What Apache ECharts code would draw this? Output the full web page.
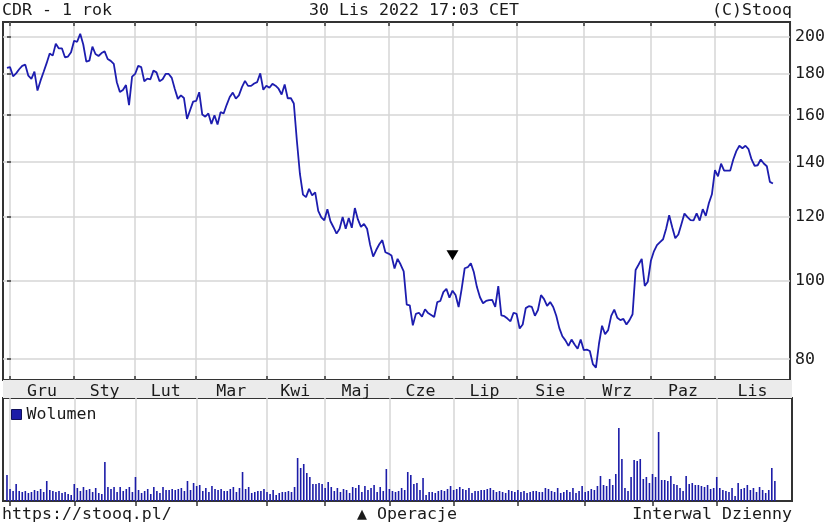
<!DOCTYPE html>
<html>
<head>
<meta charset="utf-8">
<title>CDR - 1 rok</title>
<script src="https://cdn.jsdelivr.net/npm/echarts@6.0.0/dist/echarts.min.js"></script>
<style>
  html, body { margin: 0; padding: 0; background: #fff; }
  #chart { width: 828px; height: 525px; }
</style>
</head>
<body>
<div id="chart"></div>
<script>
// one trading session per index, 30 Nov 2021 .. 30 Nov 2022
const months = ["Gru", "Sty", "Lut", "Mar", "Kwi", "Maj", "Cze", "Lip", "Sie", "Wrz", "Paz", "Lis"]
const monthStarts = [1, 22, 42, 62, 85, 104, 125, 146, 167, 189, 211, 232]
const priceTicks = [80, 100, 120, 140, 160, 180, 200]

const close = [
  183.0, 183.4, 178.7, 180.2, 182.3, 184.1, 184.7, 179.0, 177.4, 181.1,
  171.6, 176.5, 180.9, 185.5, 190.7, 189.5, 196.0, 193.4, 193.5, 188.6,
  189.0, 191.3, 197.7, 197.1, 201.6, 195.6, 186.3, 186.8, 194.4, 190.4,
  189.3, 190.9, 191.8, 187.7, 186.7, 185.1, 175.7, 170.9, 171.9, 174.3,
  164.6, 178.5, 179.9, 184.1, 183.4, 176.2, 177.5, 177.2, 181.6, 180.7,
  176.2, 177.2, 179.9, 179.9, 177.9, 172.4, 167.6, 169.3, 168.0, 158.3,
  162.3, 166.3, 166.6, 170.8, 160.3, 159.3, 160.8, 156.1, 160.0, 155.8,
  161.4, 160.8, 164.8, 168.5, 170.6, 167.7, 169.3, 173.3, 176.4, 173.9,
  173.9, 175.1, 175.8, 180.2, 172.0, 174.0, 173.0, 174.9, 174.0, 172.5,
  169.7, 174.6, 167.9, 168.0, 165.4, 148.8, 135.4, 127.7, 126.8, 129.8,
  127.4, 128.5, 121.9, 119.7, 118.7, 122.5, 118.4, 116.4, 114.3, 115.9,
  119.8, 115.9, 119.5, 116.2, 122.9, 119.0, 116.5, 117.5, 115.9, 110.7,
  107.1, 109.1, 110.9, 112.2, 108.4, 108.0, 107.4, 103.5, 106.4, 104.7,
  102.7, 93.4, 93.2, 88.1, 91.0, 91.3, 90.3, 92.2, 91.2, 90.7,
  90.2, 94.1, 94.4, 96.8, 97.7, 95.3, 97.2, 96.0, 92.8, 97.7,
  103.6, 103.9, 105.1, 102.4, 98.2, 95.4, 93.8, 94.4, 94.6, 94.7,
  92.8, 98.5, 90.6, 90.4, 89.8, 89.1, 91.3, 91.0, 87.3, 88.3,
  92.5, 93.0, 92.8, 90.5, 92.0, 96.0, 94.9, 93.1, 94.1, 92.8,
  90.5, 87.4, 85.4, 84.4, 83.1, 84.6, 83.4, 82.4, 84.6, 82.1,
  82.2, 81.9, 78.9, 78.1, 83.6, 88.0, 85.9, 86.9, 90.5, 92.1,
  90.0, 89.4, 89.7, 88.3, 89.4, 90.9, 103.1, 104.7, 106.4, 98.5,
  99.7, 105.8, 108.7, 110.6, 111.6, 112.5, 115.9, 120.4, 116.4, 112.8,
  114.0, 117.4, 121.0, 119.8, 118.8, 118.7, 121.1, 118.6, 122.5, 120.2,
  124.6, 127.8, 136.9, 134.5, 139.4, 136.7, 136.7, 136.7, 141.1, 144.5,
  146.7, 145.7, 146.7, 145.3, 141.1, 138.6, 138.8, 141.1, 139.5, 138.4,
  132.4, 131.8
]

// thousands of shares
const volume = [
  1300, 600, 500, 850, 500, 450, 500, 400, 450, 550,
  500, 600, 450, 1000, 550, 500, 450, 500, 400, 450,
  350, 300, 850, 650, 500, 700, 550, 600, 450, 650,
  400, 350, 1950, 700, 600, 700, 450, 700, 500, 600,
  700, 450, 1200, 550, 400, 500, 600, 350, 700, 500,
  400, 700, 550, 550, 600, 550, 600, 650, 500, 1000,
  550, 900, 750, 800, 500, 650, 450, 750, 600, 550,
  600, 500, 500, 600, 700, 450, 650, 1450, 600, 700,
  400, 450, 500, 500, 600, 450, 350, 550, 300, 400,
  450, 450, 500, 450, 700, 2150, 1650, 1850, 1400, 1200,
  850, 850, 900, 850, 650, 950, 700, 500, 650, 450,
  600, 550, 400, 700, 650, 800, 450, 750, 550, 650,
  800, 450, 700, 500, 1600, 600, 500, 450, 500, 650,
  550, 1450, 1300, 850, 900, 550, 1150, 300, 450, 450,
  400, 500, 550, 500, 600, 750, 550, 600, 700, 600,
  550, 650, 400, 500, 500, 550, 550, 600, 650, 550,
  450, 500, 450, 400, 550, 500, 450, 550, 450, 500,
  400, 450, 500, 500, 450, 450, 650, 600, 500, 450,
  650, 400, 450, 550, 450, 650, 400, 500, 750, 450,
  500, 600, 550, 750, 1250, 800, 750, 1100, 800, 1350,
  3650, 2100, 650, 500, 1200, 2050, 2000, 2100, 1100, 1200,
  900, 1350, 1200, 3450, 1050, 1050, 1000, 1250, 850, 800,
  650, 500, 1250, 850, 900, 800, 800, 750, 700, 800,
  600, 650, 1200, 650, 550, 500, 450, 650, 250, 900,
  600, 650, 800, 550, 650, 450, 700, 550, 400, 550,
  1650, 1000
]

// [session, marker level]
const operations = [[146, 107.5]]

const FONT = "DejaVu Sans Mono"
const xMin = -1.3
const xMax = 256.6
const monthMids = monthStarts.map((s, i) => (s + (i + 1 < monthStarts.length ? monthStarts[i + 1] : xMax)) / 2)

const ink = "#1a1a1a"
const frameColor = "#333"
const gridLine = { show: true, lineStyle: { color: "#d6d6d6", width: 1.5 } }
const txt = { fontFamily: FONT, fontSize: 16.6, color: ink, fontWeight: "normal" }
const tickStyle = { color: frameColor, width: 1.5 }

const chart = echarts.init(document.getElementById("chart"))

chart.setOption({
  animation: false,
  backgroundColor: "#fff",
  title: [
    { text: "CDR - 1 rok", left: 2, top: 2, padding: 0, textStyle: txt },
    { text: "30 Lis 2022 17:03 CET", left: "center", top: 2, padding: 0, textStyle: txt },
    { text: "(C)Stooq", right: 36, top: 2, padding: 0, textStyle: txt },
    { text: "https://stooq.pl/", left: 2, top: 506, padding: 0, textStyle: txt },
    { text: "▲ Operacje", left: 357, top: 506, padding: 0, textStyle: txt },
    { text: "Interwal Dzienny", right: 36, top: 506, padding: 0, textStyle: txt }
  ],
  legend: {
    data: ["Wolumen"],
    left: 11,
    top: 406,
    padding: 0,
    icon: "rect",
    itemWidth: 10,
    itemHeight: 10,
    itemStyle: { borderColor: "#10105a", borderWidth: 1 },
    textStyle: txt,
    selectedMode: false
  },
  graphic: [{
    type: "rect",
    silent: true,
    z: 0,
    shape: { x: 3, y: 380, width: 789, height: 18 },
    style: { fill: "#ebebeb" }
  }],
  grid: [
    { left: 3, right: 36, top: 22, height: 358, show: true, borderColor: frameColor, borderWidth: 2, backgroundColor: "#fff" },
    { left: 3, right: 36, top: 398, height: 103, show: true, borderColor: frameColor, borderWidth: 2, backgroundColor: "#fff" }
  ],
  xAxis: [
    {
      gridIndex: 0, type: "value", min: xMin, max: xMax, position: "bottom",
      axisLine: { show: false },
      axisTick: { inside: true, length: 4, customValues: monthStarts, lineStyle: tickStyle },
      splitLine: gridLine,
      axisLabel: {
        customValues: monthMids,
        margin: 3,
        ...txt,
        formatter: v => months[monthMids.findIndex(m => Math.abs(m - v) < 0.01)] || ""
      }
    },
    {
      gridIndex: 0, type: "value", min: xMin, max: xMax, position: "top",
      axisLine: { show: false },
      axisTick: { inside: true, length: 4, customValues: monthStarts, lineStyle: tickStyle },
      splitLine: { show: false },
      axisLabel: { show: false }
    },
    {
      gridIndex: 1, type: "value", min: xMin, max: xMax, position: "top",
      axisLine: { show: false },
      axisTick: { inside: true, length: 5, customValues: monthStarts, lineStyle: tickStyle },
      splitLine: gridLine,
      axisLabel: { show: false }
    }
  ],
  yAxis: [
    {
      gridIndex: 0, type: "log", min: 75.42, max: 208.5, position: "right",
      axisLine: { show: false },
      axisTick: { length: 4, customValues: priceTicks, lineStyle: tickStyle },
      splitLine: gridLine,
      axisLabel: { customValues: priceTicks, margin: 5, ...txt }
    },
    {
      gridIndex: 0, type: "log", min: 75.42, max: 208.5, position: "left",
      axisLine: { show: false },
      axisTick: { inside: true, length: 4, customValues: priceTicks, lineStyle: tickStyle },
      splitLine: { show: false },
      axisLabel: { show: false }
    },
    { gridIndex: 1, type: "value", min: 0, max: 5150, show: false }
  ],
  series: [
    {
      name: "Kurs",
      type: "line",
      xAxisIndex: 0,
      yAxisIndex: 0,
      data: close.map((v, i) => [i, v]),
      symbol: "none",
      lineStyle: { color: "#1d1daf", width: 1.8 },
      z: 3
    },
    {
      name: "Operacje",
      type: "scatter",
      xAxisIndex: 0,
      yAxisIndex: 0,
      data: operations,
      symbol: "triangle",
      symbolRotate: 180,
      symbolSize: [12, 10],
      itemStyle: { color: "#000", opacity: 1 },
      z: 4
    },
    {
      name: "Wolumen",
      type: "bar",
      xAxisIndex: 2,
      yAxisIndex: 2,
      data: volume.map((v, i) => [i, v]),
      barWidth: 1.6,
      itemStyle: { color: "#1c1ca8" }
    }
  ]
})
</script>
</body>
</html>
